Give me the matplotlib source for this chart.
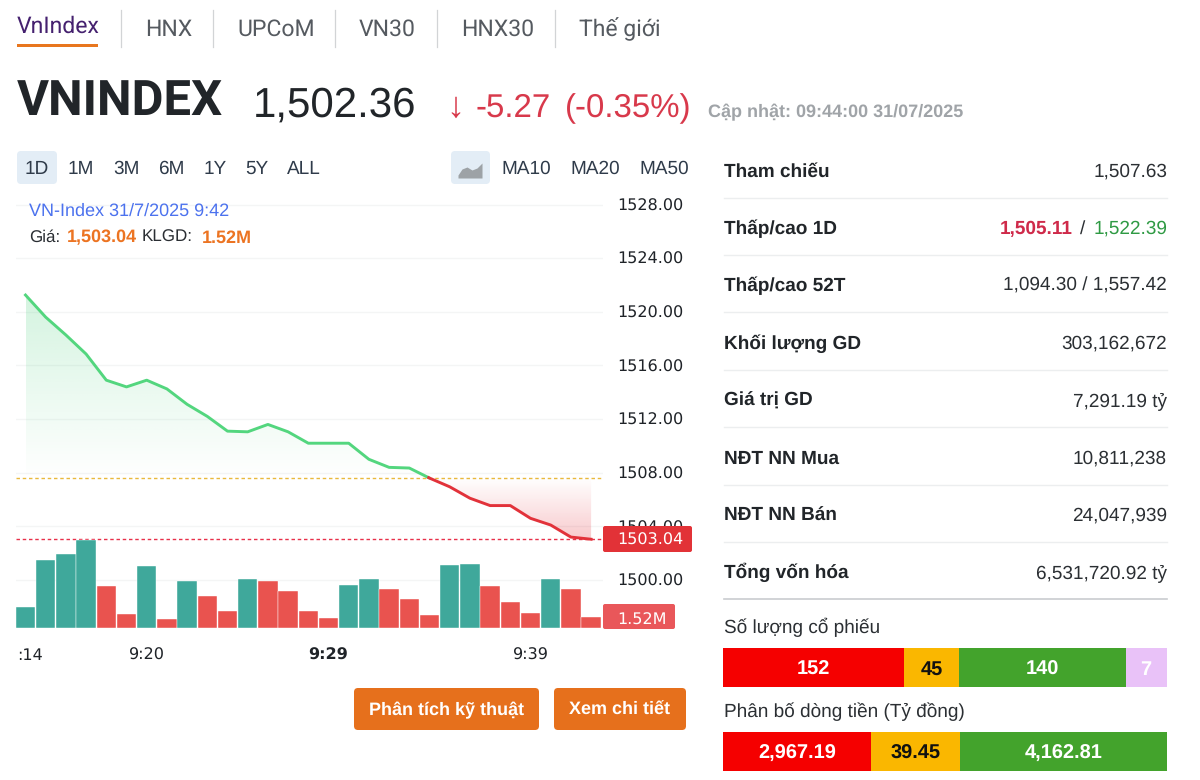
import numpy as np
import matplotlib
matplotlib.use("Agg")
import matplotlib.pyplot as plt
from matplotlib.patches import Rectangle, FancyBboxPatch, Polygon
from matplotlib.transforms import ScaledTranslation

plt.rcParams["text.hinting"] = "no_hinting"
plt.rcParams["text.hinting_factor"] = 1

# ---------- data ----------
prices = [1521.25, 1519.6, 1518.27, 1516.85, 1514.9, 1514.4, 1514.9, 1514.25, 1513.1, 1512.2,
          1511.1, 1511.05, 1511.6, 1511.05, 1510.2, 1510.2, 1510.2, 1509.0, 1508.4, 1508.35,
          1507.6, 1506.95, 1506.1, 1505.55, 1505.55, 1504.6, 1504.1, 1503.2, 1503.04]
volumes = [2.87, 9.15, 9.95, 11.88, 5.69, 1.84, 8.34, 1.25, 6.36, 4.34, 2.33, 6.59, 6.28, 4.98,
           2.33, 1.35, 5.78, 6.59, 5.29, 3.90, 1.75, 8.51, 8.65, 5.69, 3.50, 2.06, 6.59, 5.29, 1.52]
vol_up = [1, 1, 1, 1, 0, 0, 1, 0, 1, 0, 0, 1, 0, 0, 0, 0, 1, 1, 0, 0, 0, 1, 1, 0, 0, 0, 1, 0, 0]
reference = 1507.63
last_price = 1503.04
price_ticks = [1500, 1504, 1508, 1512, 1516, 1520, 1524, 1528]
time_tick_idx = [0, 6, 15, 25]
time_tick_lbl = [":14", "9:20", "9:29", "9:39"]

tabs = ["VnIndex", "HNX", "UPCoM", "VN30", "HNX30", "Thế giới"]
ranges = ["1D", "1M", "3M", "6M", "1Y", "5Y", "ALL"]
mas = ["MA10", "MA20", "MA50"]
row_labels = ["Tham chiếu", "Thấp/cao 1D", "Thấp/cao 52T", "Khối lượng GD", "Giá trị GD",
              "NĐT NN Mua", "NĐT NN Bán", "Tổng vốn hóa"]
row_values = ["1,507.63", None, "1,094.30 / 1,557.42", "303,162,672", "7,291.19 tỷ",
              "10,811,238", "24,047,939", "6,531,720.92 tỷ"]
stock_counts = [152, 45, 140, 7]
flow_values = [2967.19, 39.45, 4162.81]

# ---------- helpers ----------
LS = ["Liberation Sans", "DejaVu Sans"]
px = 0.72
W, H = 1200, 780
fig = plt.figure(figsize=(12, 7.8), dpi=100, facecolor="white")

def box(l, t, r, b):
    return [l / W, 1 - b / H, (r - l) / W, (b - t) / H]

# ---------- price axes ----------
TOP, BOT, L, R = 190, 628, 16, 603
PPU = 13.41
ax = fig.add_axes(box(L, TOP, R, BOT), facecolor="none", zorder=2)
ax.set_ylim(1500 - (BOT - 580) / PPU, 1500 + (580 - TOP) / PPU)
DX = 20.2
ax.set_xlim((L - 25.5) / DX, (R - 25.5) / DX)
x = np.arange(len(prices), dtype=float)
p = np.array(prices)
for s in ax.spines.values():
    s.set_visible(False)
ax.yaxis.tick_right()
ax.set_yticks(price_ticks)
ax.set_yticklabels(["%.2f" % t for t in price_ticks], fontfamily="DejaVu Sans", fontsize=15.6 * px, color="#1f2328")
ax.tick_params(axis="y", length=0, pad=10.5)
ax.set_xticks(time_tick_idx)
ax.set_xticklabels(time_tick_lbl, fontfamily="DejaVu Sans", fontsize=15.6 * px, color="#1f2328")
ax.tick_params(axis="x", length=0, pad=14)
ax.get_xticklabels()[2].set_fontweight("bold")
ax.get_xticklabels()[0].set_transform(ax.get_xticklabels()[0].get_transform() + ScaledTranslation(4.5 / 100, 0, fig.dpi_scale_trans))
ax.grid(axis="y", color="#f4f5f5", lw=1.0)
ax.set_axisbelow(True)

xc = np.interp(-reference, -p, x)
above = x < xc
xg = np.r_[x[above], xc]
yg = np.r_[p[above], reference]
xr = np.r_[xc, x[~above]]
yr = np.r_[reference, p[~above]]

def gradient(xs, ys, rgb, a_top, a_bot, y_top, y_bot):
    g = np.zeros((256, 2, 4))
    g[..., :3] = matplotlib.colors.to_rgb(rgb)
    g[..., 3] = np.linspace(a_top, a_bot, 256)[:, None]
    im = ax.imshow(g, extent=(xs[0], xs[-1], y_bot, y_top), aspect="auto", origin="upper", zorder=1)
    poly = Polygon(np.c_[np.r_[xs, xs[-1], xs[0]], np.r_[ys, reference, reference]], transform=ax.transData, fc="none", ec="none")
    ax.add_patch(poly)
    im.set_clip_path(poly)

xl, yl = ax.get_xlim(), ax.get_ylim()
gradient(xg, yg, "#4cd07d", 0.24, 0.0, p.max(), reference)
gradient(xr, yr, "#e5343f", 0.0, 0.26, reference, p.min())
ax.set_xlim(xl); ax.set_ylim(yl)

ax.plot(xg, yg, color="#53d67e", lw=2.1, zorder=3, solid_joinstyle="round")
ax.plot(xr, yr, color="#e2323a", lw=2.1, zorder=3, solid_joinstyle="round")
ax.axhline(reference, color="#e9b93d", lw=1.0, ls=(0, (2.5, 2)), zorder=2)
ax.axhline(last_price, color="#e8304a", lw=1.0, ls=(0, (2.5, 2)), zorder=2)

# ---------- volume axes ----------
axv = fig.add_axes(box(L, TOP, R, BOT), facecolor="none", zorder=3)
axv.set_xlim(xl)
axv.set_ylim(0, (BOT - TOP) * 0.1345)
axv.axis("off")
axv.bar(x, volumes, width=0.96,
        color=["#3fa89b" if u else "#e9534f" for u in vol_up],
        edgecolor="#ffffff", linewidth=0.3)

# ---------- UI overlay ----------
ui = fig.add_axes([0, 0, 1, 1], facecolor="none", zorder=4)
ui.set_xlim(0, W); ui.set_ylim(H, 0); ui.axis("off")

def T(xp, yc, s, size=18, color="#22262a", weight="normal", ha="left", family=LS):
    # yc = vertical centre of the capitals
    return ui.text(xp, yc + 0.36 * size, s, fontsize=size * px, color=color, fontweight=weight,
                   ha=ha, va="baseline", family=family)

def rect(l, t, r, b, c, rounded=0):
    if rounded:
        ui.add_patch(FancyBboxPatch((l + rounded, t + rounded), r - l - 2 * rounded, b - t - 2 * rounded,
                                    boxstyle="round,pad=%g,rounding_size=%g" % (rounded, rounded), fc=c, ec="none"))
    else:
        ui.add_patch(Rectangle((l, t), r - l, b - t, fc=c, ec="none"))

# tabs
tab_x = [17, 145, 237, 359, 461, 579]
for i, (tx, s) in enumerate(zip(tab_x, tabs)):
    T(tx, 25 if i == 0 else 28, s, 22.8, "#45216f" if i == 0 else "#555a60", family="Roboto")
for sx in [121, 213, 335, 437, 555]:
    ui.plot([sx, sx], [10, 47], color="#d2d4d6", lw=0.9)
rect(17, 44, 98, 47, "#e8761e")

# header
T(17, 97, "VNINDEX", 49, "#212529", "bold", family="Roboto")
T(253, 102, "1,502.36", 42, "#212529")
T(446, 104, "↓", 36, "#d8394b")
T(476, 105, "-5.27", 33, "#d8394b")
T(565, 105, "(-0.35%)", 33, "#d8394b")
T(708, 110.5, "Cập nhật: 09:44:00 31/07/2025", 17.9, "#a0a4a8", "bold")

# range buttons
rect(17, 151, 57, 184, "#e3edf6", 4)
for s, xc_ in zip(ranges, [37, 81, 126, 171, 215, 257, 304]):
    T(xc_, 166.5, s, 19.5, "#2f3b4a", ha="center")
rect(451, 151, 490, 184, "#e3edf6", 4)
# small area icon
ix = np.array([458, 462, 467, 472, 477, 482])
iy = np.array([175, 169, 167, 170, 168, 163])
ui.fill_between(ix, iy, 178, color="#9da2a6", lw=0)
for s, xp in zip(mas, [526, 595, 664]):
    T(xp, 166.5, s, 19.5, "#2f3b4a", ha="center")

# legend
T(29, 209, "VN-Index 31/7/2025 9:42", 18, "#4c72ee")
T(29, 236, "Giá:", 17.3, "#2a2e33")
T(67, 236, "1,503.04", 18, "#ec7422", "bold")
T(142, 236, "KLGD:", 17.3, "#2a2e33")
T(202, 236, "1.52M", 18, "#ec7422", "bold")

# price & volume tags
rect(603, 526, 692, 552, "#e23237", 2)
T(650, 539.5, "1503.04", 15.6, "white", ha="center", family="DejaVu Sans")
rect(603, 604, 675, 629, "#e9575a", 2)
T(642, 619, "1.52M", 15.6, "white", ha="center", family="DejaVu Sans")

# buttons
for l, r, s in [(354, 539, "Phân tích kỹ thuật"), (554, 686, "Xem chi tiết")]:
    rect(l, 688, r, 730, "#e6701c", 4)
    T((l + r) / 2, 708.5, s, 18.2, "white", "bold", ha="center")

# stats table
row_y = [170, 227, 284, 342, 399, 457, 514, 571]
sep_y = [198, 255, 312, 370, 427, 485, 542]
for y, a, b in zip(row_y, row_labels, row_values):
    T(724, y, a, 19.0, "#212529", "bold")
    if b:
        T(1167, y, b, 19.5, "#2b2f33", ha="right")
for y in sep_y:
    ui.plot([724, 1167], [y, y], color="#eceeef", lw=1)
ui.plot([724, 1167], [599, 599], color="#c9cccf", lw=1.2)
T(1167, 227, "1,522.39", 19.5, "#2f9a44", ha="right")
T(1085, 227, "/", 19.5, "#2b2f33", ha="right")
T(1073, 227, "1,505.11", 19.3, "#cf2a4a", "bold", ha="right")

# composition bars
T(724, 626.5, "Số lượng cổ phiếu", 19.5, "#2b2f33")
T(724, 710, "Phân bố dòng tiền (Tỷ đồng)", 19.5, "#2b2f33")
seg_colors = ["#f50000", "#fab700", "#43a32c", "#e9c2f8"]
stock_edges = [723.3, 904.3, 958.7, 1125.7, 1166.7]
for i, v in enumerate(stock_counts):
    rect(stock_edges[i], 648.3, stock_edges[i + 1], 687.3, seg_colors[i])
    T((stock_edges[i] + stock_edges[i + 1]) / 2, 668, str(v), 20, "#111111" if i == 1 else "white", "bold", ha="center")
flow_edges = [723.3, 870.7, 960, 1166.7]
for i, v in enumerate(flow_values):
    rect(flow_edges[i], 732, flow_edges[i + 1], 770.7, seg_colors[i])
    T((flow_edges[i] + flow_edges[i + 1]) / 2, 751.5, f"{v:,.2f}", 20, "#111111" if i == 1 else "white", "bold", ha="center")

fig.savefig("out.png", dpi=100, facecolor="white")
